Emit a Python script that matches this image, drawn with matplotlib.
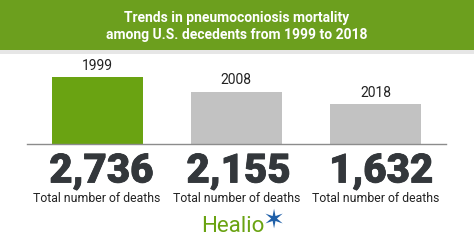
import matplotlib
matplotlib.use("Agg")
import matplotlib.pyplot as plt
from matplotlib.patches import Rectangle
import matplotlib.transforms as mtransforms
import matplotlib.patheffects as pe

years = ["1999", "2008", "2018"]
deaths = [2736, 2155, 1632]
number_labels = ["2,736", "2,155", "1,632"]
sub_label = "Total number of deaths"
title_lines = ["Trends in pneumoconiosis mortality", "among U.S. decedents from 1999 to 2018"]
bar_colors = ["#6aa312", "#c2c2c2", "#c2c2c2"]

W, H = 474, 248
fig = plt.figure(figsize=(W / 100, H / 100), dpi=100)
fig.patch.set_facecolor("white")

# Banner
fig.patches.append(Rectangle((0, 1 - 50 / H), 1, 50 / H, transform=fig.transFigure,
                             facecolor="#6c9f1e", edgecolor="none", zorder=0))
fig.patches.append(Rectangle((0, 1 - 54 / H), 1, 4 / H, transform=fig.transFigure,
                             facecolor="#e6e6e6", edgecolor="none", zorder=0))
fig.text(0.5, 1 - 18 / H, title_lines[0], ha="center", va="center", color="white",
         fontsize=10, fontweight="bold", family="Roboto")
fig.text(0.5, 1 - 35 / H, title_lines[1], ha="center", va="center", color="white",
         fontsize=10, fontweight="bold", family="Roboto")

# Bars axis
left_px, right_px, base_px, top_px = 27.3, 446, 144.3, 55
ax = fig.add_axes([left_px / W, 1 - base_px / H, (right_px - left_px) / W, (base_px - top_px) / H])
x = list(range(len(years)))
ax.bar(x, deaths, width=0.654, color=bar_colors)
ax.set_xlim(-0.502, 2.506)
ax.set_ylim(0, (base_px - top_px) / 0.02443)
for s in ["top", "left", "right"]:
    ax.spines[s].set_visible(False)
ax.spines["bottom"].set_color("#8c8c8c")
ax.spines["bottom"].set_linewidth(1.0)
ax.set_xticks([])
ax.set_yticks([])
ax.patch.set_alpha(0)

for xi, v, yr in zip(x, deaths, years):
    ax.annotate(yr, (xi, v), xytext=(0, 3), textcoords="offset points", ha="center", va="bottom",
                fontsize=10, color="#222222", family="Roboto")

trans = mtransforms.blended_transform_factory(ax.transData, fig.transFigure)
num_dx = [0.03, 0.015, 0.04]
for xi, lab, dx in zip(x, number_labels, num_dx):
    ax.text(xi + dx, 1 - 171 / H, lab, transform=trans, ha="center", va="center",
            fontsize=29, fontweight="black", family="Roboto", color="#33373b",
            path_effects=[pe.withStroke(linewidth=0.6, foreground="#33373b")])
    ax.text(xi + 0.0, 1 - 199 / H, sub_label, transform=trans, ha="center", va="center",
            fontsize=8.8, family="Roboto", color="#222222")

# Logo
fig.text(233 / W, 1 - 227 / H, "Healio", ha="center", va="center", fontsize=16,
         family="Roboto", color="#6aa312")
fig.text(274 / W, 1 - 221 / H, "\u2736", ha="center", va="center", fontsize=19,
         family="DejaVu Sans", color="#1f5fa8")

fig.savefig("out.png", dpi=100, facecolor="white")
